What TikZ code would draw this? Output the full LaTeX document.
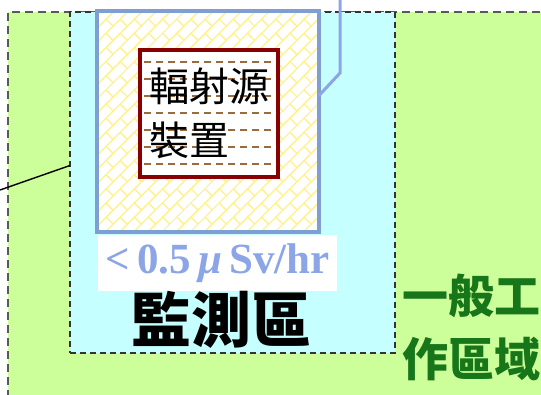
\documentclass[tikz,border=0pt]{standalone}
\usepackage{fontspec}
\setmainfont{Liberation Serif}
\newfontfamily\cjk{Noto Sans CJK TC}
\usetikzlibrary{positioning,patterns.meta}
\definecolor{workgreen}{HTML}{CCFF99}
\definecolor{monicyan}{HTML}{C6FFFF}
\definecolor{shieldblue}{HTML}{7F9FD3}
\definecolor{doseblue}{HTML}{8CA5E6}
\definecolor{srcred}{HTML}{880000}
\definecolor{dashbrown}{HTML}{9C6B3C}
\definecolor{textgreen}{HTML}{17751A}
\definecolor{brickyellow}{HTML}{FFF28A}
\tikzdeclarepattern{
  name=diagbricks,
  type=uncolored,
  bottom left={(-.5pt,-.5pt)},
  top right={(20.5pt,20.5pt)},
  tile size={(20pt,20pt)},
  tile transformation={rotate=45},
  code={
    \draw[line width=1.4pt] (-.5pt,0) -- (20.5pt,0) (-.5pt,10pt) -- (20.5pt,10pt)
      (0,0) -- (0,10pt) (10pt,10pt) -- (10pt,20pt);
  }
}
\tikzset{
  zone/.style={rectangle,inner sep=0pt,outer sep=0pt,anchor=north west},
  workzone/.style={zone,fill=workgreen,draw=black!65,line width=2.2pt,
    dash pattern=on 8pt off 5pt},
  monizone/.style={zone,fill=monicyan,draw=black!80,line width=1.6pt,
    dash pattern=on 6pt off 4pt},
  shieldbox/.style={zone,preaction={fill=white},pattern={diagbricks},
    pattern color=brickyellow,draw=shieldblue,line width=4pt},
  srcbox/.style={zone,fill=white,draw=srcred,line width=3.5pt},
  srctext/.style={align=left,inner sep=0pt,font=\cjk\fontsize{40}{54}\selectfont},
  doselabel/.style={rectangle,fill=white,inner sep=0pt,text=doseblue,
    font=\fontsize{43}{43}\selectfont\bfseries},
  zonelabel/.style={inner sep=0pt,font=\cjk\bfseries\fontsize{60}{60}\selectfont},
  worklabel/.style={inner sep=0pt,align=left,text=textgreen,
    font=\cjk\bfseries\fontsize{46}{63}\selectfont},
  feedline/.style={draw=doseblue,line width=3pt},
  leadline/.style={draw=black,line width=1.4pt},
}
\begin{document}
\begin{tikzpicture}[x=1pt,y=-1pt]
  \useasboundingbox (0,0) rectangle (541,394);
  \clip (0,0) rectangle (541,394);
  \node[workzone,minimum width=560pt,minimum height=400pt] (work) at (8,12) {};
  \node[monizone,minimum width=325pt,minimum height=341pt] (moni) at (70,12) {};
  \node[shieldbox,minimum width=222pt,minimum height=221pt] (shield) at (97,11) {};
  \node[srcbox,minimum width=138pt,minimum height=127pt] (source) at (140,50) {};
  \begin{scope}
    \clip (142,52) rectangle (276,175);
    \foreach \r in {62,79,96,113,130,147,164}
      \draw[dashbrown,line width=2pt,dash pattern=on 7pt off 5pt] (144,\r) -- (278,\r);
  \end{scope}
  \node[srctext] (srcname) at (source.center) {輻射源\\裝置};
  \node[doselabel,minimum width=239pt,minimum height=56pt] (dose) at (217.5,263)
    {<\,0.5\,{\itshape μ}\,Sv/hr};
  \node[zonelabel] (moniname) at (221,320) {監測區};
  \node[worklabel,anchor=west] (workname) at (402,327) {一般工\\作區域};
  \coordinate (feed) at (340,0);
  \coordinate (bend) at (340,73);
  \draw[feedline] (feed) -- (bend) -- ([yshift=26pt]shield.east);
  \coordinate (lead) at (0,190);
  \draw[leadline] (lead) -- ([yshift=17pt]moni.west);
\end{tikzpicture}
\end{document}
